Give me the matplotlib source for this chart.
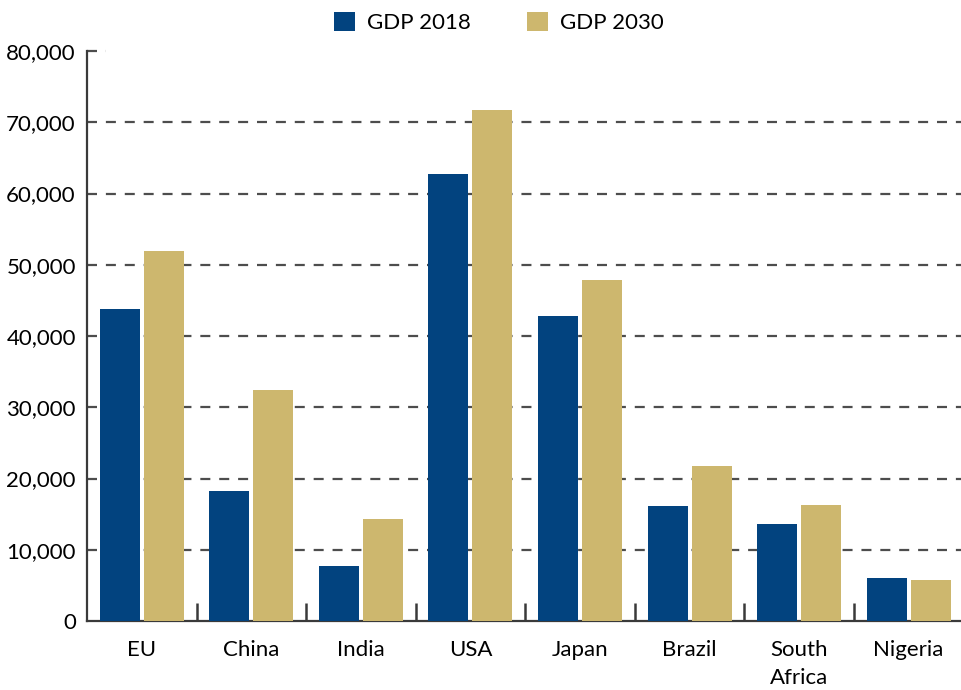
import numpy as np
import matplotlib.pyplot as plt
from matplotlib.ticker import FuncFormatter

plt.rcParams['font.family'] = ['Lato', 'DejaVu Sans']

# data
countries = ['EU', 'China', 'India', 'USA', 'Japan', 'Brazil', 'South\nAfrica', 'Nigeria']
gdp_2018 = [43800, 18200, 7700, 62700, 42800, 16100, 13600, 6000]
gdp_2030 = [51900, 32400, 14300, 71700, 47900, 21800, 16300, 5700]

navy = '#02437F'
gold = '#CDB76E'
grid_col = '#4d4d4d'

fig = plt.figure(figsize=(9.61, 6.9), dpi=100)
ax = fig.add_axes([0.0905, 0.1, 0.912, 0.826])

x = np.arange(len(countries))
w = 0.365
gap = 0.0365
ax.bar(x - (w + gap) / 2, gdp_2018, w, color=navy, label='GDP 2018', zorder=3)
ax.bar(x + (w + gap) / 2, gdp_2030, w, color=gold, label='GDP 2030', zorder=3)

ax.set_xlim(-0.5, len(countries) - 0.5)
ax.set_ylim(0, 80000)
ax.set_yticks(np.arange(0, 80001, 10000))
ax.yaxis.set_major_formatter(FuncFormatter(lambda v, p: f'{int(v):,}'))

# dashed grid lines (the top one is just a stub)
for yv in range(10000, 80000, 10000):
    ax.axhline(yv, color=grid_col, lw=1.6, ls=(0, (4.5, 4)), zorder=1)
ax.axhline(80000, xmin=0, xmax=0.022, color=grid_col, lw=1.6, ls=(0, (4.5, 4)), zorder=1, clip_on=False)

ax.set_xticks(x)
ax.set_xticklabels(countries, linespacing=1.45)
ax.set_xticks(np.arange(0.5, len(countries) - 0.5, 1), minor=True)
ax.tick_params(axis='x', which='major', length=0, pad=14, labelsize=16)
ax.tick_params(axis='x', which='minor', direction='in', length=13, width=1.8, color='#3a3a3a')
ax.tick_params(axis='y', length=0, pad=8, labelsize=16)

for s in ['top', 'right']:
    ax.spines[s].set_visible(False)
for s in ['left', 'bottom']:
    ax.spines[s].set_color('#3a3a3a')
    ax.spines[s].set_linewidth(1.6)

fig.legend(loc='upper center', bbox_to_anchor=(0.519, 1.012), ncol=2, frameon=False,
           fontsize=16, handlelength=0.95, handleheight=0.95, columnspacing=2.5,
           handletextpad=0.55)

fig.savefig('out.png', dpi=100)
